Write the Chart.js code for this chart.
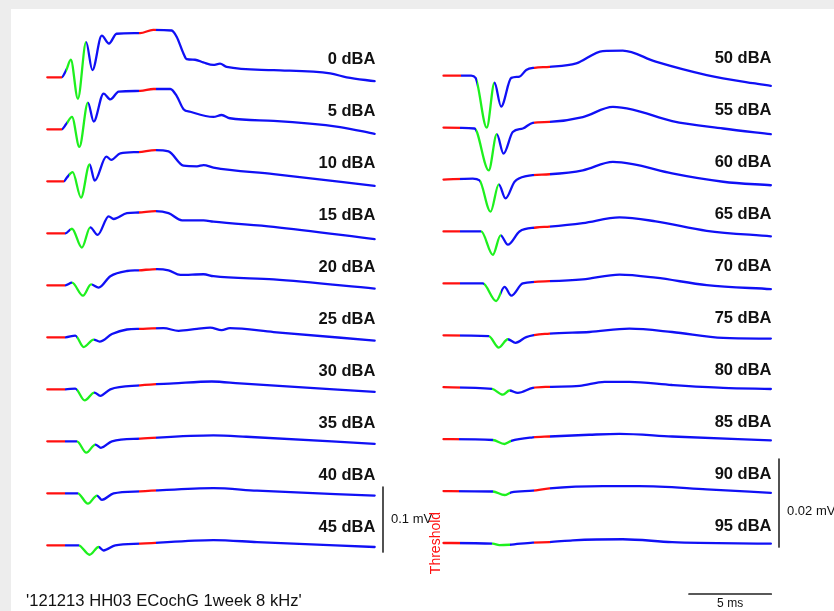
<!DOCTYPE html>
<html>
<head>
<meta charset="utf-8">
<script src="https://cdn.jsdelivr.net/npm/chart.js@4.4.1/dist/chart.umd.min.js"></script>
<style>
  html, body { margin: 0; padding: 0; background: #fff; }
  canvas { display: block; }
</style>
</head>
<body>
<canvas id="ecochg" width="834" height="611"></canvas>
<script>
// stimulus levels (dBA) per column
const levelsLeft = [0, 5, 10, 15, 20, 25, 30, 35, 40, 45];
const levelsRight = [50, 55, 60, 65, 70, 75, 80, 85, 90, 95];

// waveforms: [time ms, amplitude µV]
const wavesLeft = [
  [[0,0],[0.87,0],[1.15,11],[1.43,27],[1.86,-33],[2.36,54],[2.74,11],[3.31,64],[3.75,52],[4.21,67],[5.64,68],[6.44,73],[7.56,72],[7.87,62],[8.27,37],[8.47,28],[8.98,27],[9.48,23],[10.09,19],[10.5,21],[10.9,16],[13.76,11],[17.2,6],[18.2,0],[19.9,-6]],
  [[0,0],[0.87,0],[1.15,8],[1.5,19],[1.95,-27],[2.47,41],[2.82,12],[3.42,55],[3.83,46],[4.34,58],[5.65,59],[6.46,62],[7.48,62],[7.87,51],[8.28,31],[8.69,27],[10.1,19],[10.6,22],[11.1,17],[13.76,13],[17.8,3.5],[19.9,-7]],
  [[0,0],[1.0,0],[1.2,6],[1.54,14],[2.05,-25],[2.57,26],[2.88,1],[3.59,38],[3.89,33],[4.44,43],[5.55,45],[6.57,48],[7.37,46],[8.28,24],[9.1,23],[9.5,25],[10.1,21],[13.76,11],[19.9,-7]],
  [[0,0],[1.1,0],[1.5,7],[2.1,-22],[2.61,9],[3.06,-2.5],[3.73,26],[4.03,22],[4.84,31],[5.55,32],[6.57,34],[7.37,31],[8.19,20],[9.5,20],[10.1,18],[13.76,10],[19.9,-9]],
  [[0,0],[1.1,0],[1.5,4],[2.17,-16],[2.66,1.5],[3.12,-3.5],[3.83,14],[4.84,22],[5.55,23],[6.67,25],[7.37,23],[8.09,16],[9.5,17],[10.1,14],[13.76,9],[19.9,-5]],
  [[0,0],[1.1,0],[1.7,2.6],[2.21,-15],[2.82,-3.5],[3.18,-6.6],[3.93,5],[4.84,12],[5.65,13],[7.07,14],[7.98,10],[9.1,13],[9.9,15],[10.6,11],[11.1,14],[13.76,8],[19.9,-5]],
  [[0,0],[1.1,0],[1.7,1],[2.27,-17],[2.86,-5],[3.22,-10],[3.83,0],[5.65,6],[7.68,9],[10.0,12],[11.7,9],[19.9,-4]],
  [[0,0],[1.1,0],[1.8,0],[2.37,-17.5],[2.92,-5],[3.26,-10],[3.93,0],[5.65,4],[10.1,9],[12.1,7],[19.9,-4]],
  [[0,0],[1.1,0],[1.85,0],[2.47,-16],[3.02,-3.5],[3.32,-10],[4.03,0],[5.65,3],[10.1,8],[12.75,4],[19.9,-3.5]],
  [[0,0],[1.1,0],[1.9,0],[2.57,-14.5],[3.12,-2.6],[3.42,-8],[4.13,0],[5.65,2.5],[10.1,8],[12.75,5],[19.9,-2.6]]
];
const wavesRight = [
  [[0,0],[1.68,0],[1.95,-0.5],[2.63,-11.8],[3.1,-1.6],[3.5,-7],[4.12,-0.5],[4.62,-0.2],[5.03,1.3],[5.53,1.8],[6.44,2],[8.07,2.8],[9.68,5.6],[10.9,5.7],[12.9,3.2],[16.0,0.15],[18.8,-1.7],[19.9,-2.3]],
  [[0,0],[1.88,-0.2],[2.75,-9.7],[3.24,-1.5],[3.65,-5.9],[4.21,-1],[4.82,-0.2],[5.43,1.1],[6.44,1.3],[8.47,2.4],[10.3,4.7],[11.5,4.1],[13.9,1.5],[17.0,-0.2],[19.9,-1.5]],
  [[0,0],[1.78,0.2],[2.19,-0.2],[2.86,-7.3],[3.36,-1.1],[3.77,-4.3],[4.32,-0.5],[5.03,0.8],[6.44,1.2],[8.47,2.1],[10.3,4.0],[11.5,3.5],[13.9,1.4],[17.0,-0.5],[19.9,-1.3]],
  [[0,0],[2.29,0],[3.0,-5.3],[3.47,-0.9],[3.91,-3],[4.62,0],[5.64,0.9],[6.44,1.1],[8.47,1.9],[10.7,3.2],[12.9,2.3],[16.0,0.15],[19.9,-1.1]],
  [[0,0],[2.39,0],[3.2,-4.0],[3.71,-0.8],[4.12,-2.8],[4.82,0],[6.44,0.5],[8.47,0.9],[10.7,2.0],[12.9,1.3],[16.0,-0.4],[19.9,-1.3]],
  [[0,0],[2.75,-0.2],[3.36,-2.8],[3.91,-0.9],[4.38,-1.7],[5.03,-0.4],[6.44,0.4],[8.87,0.75],[11.3,1.5],[13.9,0.75],[17.0,-0.6],[19.9,-0.75]],
  [[0,0],[2.96,-0.4],[3.61,-1.7],[4.01,-0.75],[4.52,-1.3],[5.43,-0.15],[6.44,0.1],[8.27,0.3],[9.79,1.2],[11.3,1.2],[13.9,0.5],[17.0,-0.15],[19.9,-0.4]],
  [[0,0],[3.0,-0.2],[3.71,-1.1],[4.12,-0.4],[5.43,0.4],[6.44,0.6],[8.87,1.0],[10.7,1.2],[13.9,0.6],[19.9,-0.3]],
  [[0,0],[3.0,-0.1],[3.71,-0.9],[4.12,-0.3],[5.43,0.1],[6.44,0.6],[9.68,1.1],[11.9,1.1],[16.0,0.4],[19.9,-0.4]],
  [[0,0],[3.0,-0.15],[3.4,-0.5],[4.01,-0.4],[5.43,0.1],[6.44,0.2],[7.86,0.6],[10.9,0.85],[13.9,0.2],[19.9,-0.15]]
];

// analysis windows (ms): baseline end, response window (green), late baseline (red)
const baseEndLeft = [0.87, 0.87, 1.0, 1.1, 1.1, 1.1, 1.1, 1.1, 1.1, 1.1];
const greenLeft = [[1.15,2.36],[1.2,2.5],[1.3,2.57],[1.4,2.61],[1.5,2.7],[1.8,2.82],[1.8,2.86],[1.8,2.92],[1.85,3.02],[1.9,3.12]];
const lateLeft = [5.6, 6.6];
const baseEndRight = [1.08, 1.0, 1.0, 1.0, 1.0, 1.0, 1.0, 0.97, 0.97, 1.0];
const greenRight = [[2.03,3.1],[1.98,3.24],[2.19,3.36],[2.29,3.47],[2.49,3.5],[2.75,3.91],[2.96,4.05],[3.0,4.12],[3.0,4.05],[2.96,4.05]];
const lateRight = [5.5, 6.5];

const sweepMs = 20;
const scaleBarUv = [100, 20];   // 0.1 mV, 0.02 mV
const scaleBarMs = 5;
const title = "'121213 HH03 ECochG 1week 8 kHz'";

// layout (pixels)
const W = 834, H = 611;
const PX_MS = 16.45;
const X0L = 47.3, X0R = 443.5;
const Y0L = 77.3, Y0R = 75.7;
const PX_UV_L = 0.65, PX_UV_R = 4.4;
const GAP_L = 80, GAP_R = 11.8;   // trace spacing in µV

const RED = "#ff1010", GREEN = "#1ef01e", BLUE = "#1010f5";

function bandColor(chart, xId, baseEnd, green, late) {
  if (!chart.chartArea) return BLUE;
  const sx = chart.scales[xId];
  const a = sx.getPixelForValue(0), b = sx.getPixelForValue(sweepMs);
  const g = chart.ctx.createLinearGradient(a, 0, b, 0);
  const bands = [
    [0, baseEnd, RED], [baseEnd, green[0], BLUE], [green[0], green[1], GREEN],
    [green[1], late[0], BLUE], [late[0], late[1], RED], [late[1], sweepMs, BLUE]
  ];
  bands.forEach(([s, e, c]) => {
    g.addColorStop(Math.min(1, s / sweepMs), c);
    g.addColorStop(Math.min(1, e / sweepMs), c);
  });
  return g;
}

const datasets = [];
wavesLeft.forEach((w, i) => {
  datasets.push({
    xAxisID: "xL", yAxisID: "yL",
    data: w.map(([t, v]) => ({ x: t, y: v - i * GAP_L })),
    borderColor: ctx => bandColor(ctx.chart, "xL", baseEndLeft[i], greenLeft[i], lateLeft),
    borderWidth: 2.3
  });
});
wavesRight.forEach((w, i) => {
  datasets.push({
    xAxisID: "xR", yAxisID: "yR",
    data: w.map(([t, v]) => ({ x: t, y: v - i * GAP_R })),
    borderColor: ctx => bandColor(ctx.chart, "xR", baseEndRight[i], greenRight[i], lateRight),
    borderWidth: 2.3
  });
});

// scale bars
const barL = -(487 - Y0L) / PX_UV_L, barR = -(459 - Y0R) / PX_UV_R;
const barX = (383 - X0L) / PX_MS;
datasets.push({ xAxisID: "xL", yAxisID: "yL", borderColor: "#333", borderWidth: 1.7,
  data: [{ x: barX, y: barL }, { x: barX, y: barL - scaleBarUv[0] }] });
datasets.push({ xAxisID: "xR", yAxisID: "yR", borderColor: "#333", borderWidth: 1.7,
  data: [{ x: (779 - X0R) / PX_MS, y: barR }, { x: (779 - X0R) / PX_MS, y: barR - scaleBarUv[1] }] });
const timeBarY = -(594 - Y0R) / PX_UV_R, timeBarX = (689 - X0R) / PX_MS;
datasets.push({ xAxisID: "xR", yAxisID: "yR", borderColor: "#222", borderWidth: 1.7,
  data: [{ x: timeBarX, y: timeBarY }, { x: timeBarX + scaleBarMs, y: timeBarY }] });

const textPlugin = {
  id: "texts",
  beforeDraw(chart) {
    const c = chart.ctx;
    c.save();
    c.fillStyle = "#ededed";
    c.fillRect(0, 0, W, H);
    c.fillStyle = "#ffffff";
    c.fillRect(11, 9, W - 11, H - 9);
    c.restore();
  },
  afterDatasetsDraw(chart) {
    const c = chart.ctx;
    const s = chart.scales;
    c.save();
    c.fillStyle = "#111";
    c.font = "bold 16.5px 'Liberation Sans', Arial, sans-serif";
    c.textAlign = "right";
    c.textBaseline = "middle";
    levelsLeft.forEach((lv, i) => {
      c.fillText(lv + " dBA", s.xL.getPixelForValue(sweepMs) - 1, s.yL.getPixelForValue(-i * GAP_L) - 18);
    });
    levelsRight.forEach((lv, i) => {
      c.fillText(lv + " dBA", s.xR.getPixelForValue(sweepMs) - 1, s.yR.getPixelForValue(-i * GAP_R) - 17);
    });

    c.font = "13px 'Liberation Sans', Arial, sans-serif";
    c.textAlign = "left";
    c.fillText((scaleBarUv[0] / 1000) + " mV", 391, s.yL.getPixelForValue(barL - scaleBarUv[0] / 2));
    c.fillText((scaleBarUv[1] / 1000) + " mV", 787, s.yR.getPixelForValue(barR - scaleBarUv[1] * 0.6));

    c.textAlign = "center";
    c.font = "12px 'Liberation Sans', Arial, sans-serif";
    c.fillText(scaleBarMs + " ms", s.xR.getPixelForValue(timeBarX + scaleBarMs / 2), 604);

    c.textAlign = "left";
    c.font = "16.6px 'Liberation Sans', Arial, sans-serif";
    c.fillText(title, 26, 601);

    c.save();
    c.translate(436, 543);
    c.rotate(-Math.PI / 2);
    c.textAlign = "center";
    c.fillStyle = RED;
    c.font = "14px 'Liberation Sans', Arial, sans-serif";
    c.fillText("Threshold", 0, 0);
    c.restore();
    c.restore();
  }
};

new Chart(document.getElementById("ecochg"), {
  type: "line",
  data: { datasets },
  options: {
    responsive: false,
    animation: false,
    devicePixelRatio: 1,
    layout: { padding: 0 },
    elements: {
      point: { radius: 0, hoverRadius: 0 },
      line: { cubicInterpolationMode: "monotone", borderCapStyle: "round", borderJoinStyle: "round" }
    },
    plugins: { legend: { display: false }, tooltip: { enabled: false } },
    scales: {
      xL: { type: "linear", axis: "x", display: false, min: -X0L / PX_MS, max: (W - X0L) / PX_MS },
      xR: { type: "linear", axis: "x", display: false, min: -X0R / PX_MS, max: (W - X0R) / PX_MS },
      yL: { type: "linear", axis: "y", display: false, min: -(H - Y0L) / PX_UV_L, max: Y0L / PX_UV_L },
      yR: { type: "linear", axis: "y", display: false, min: -(H - Y0R) / PX_UV_R, max: Y0R / PX_UV_R }
    }
  },
  plugins: [textPlugin]
});
</script>
</body>
</html>
